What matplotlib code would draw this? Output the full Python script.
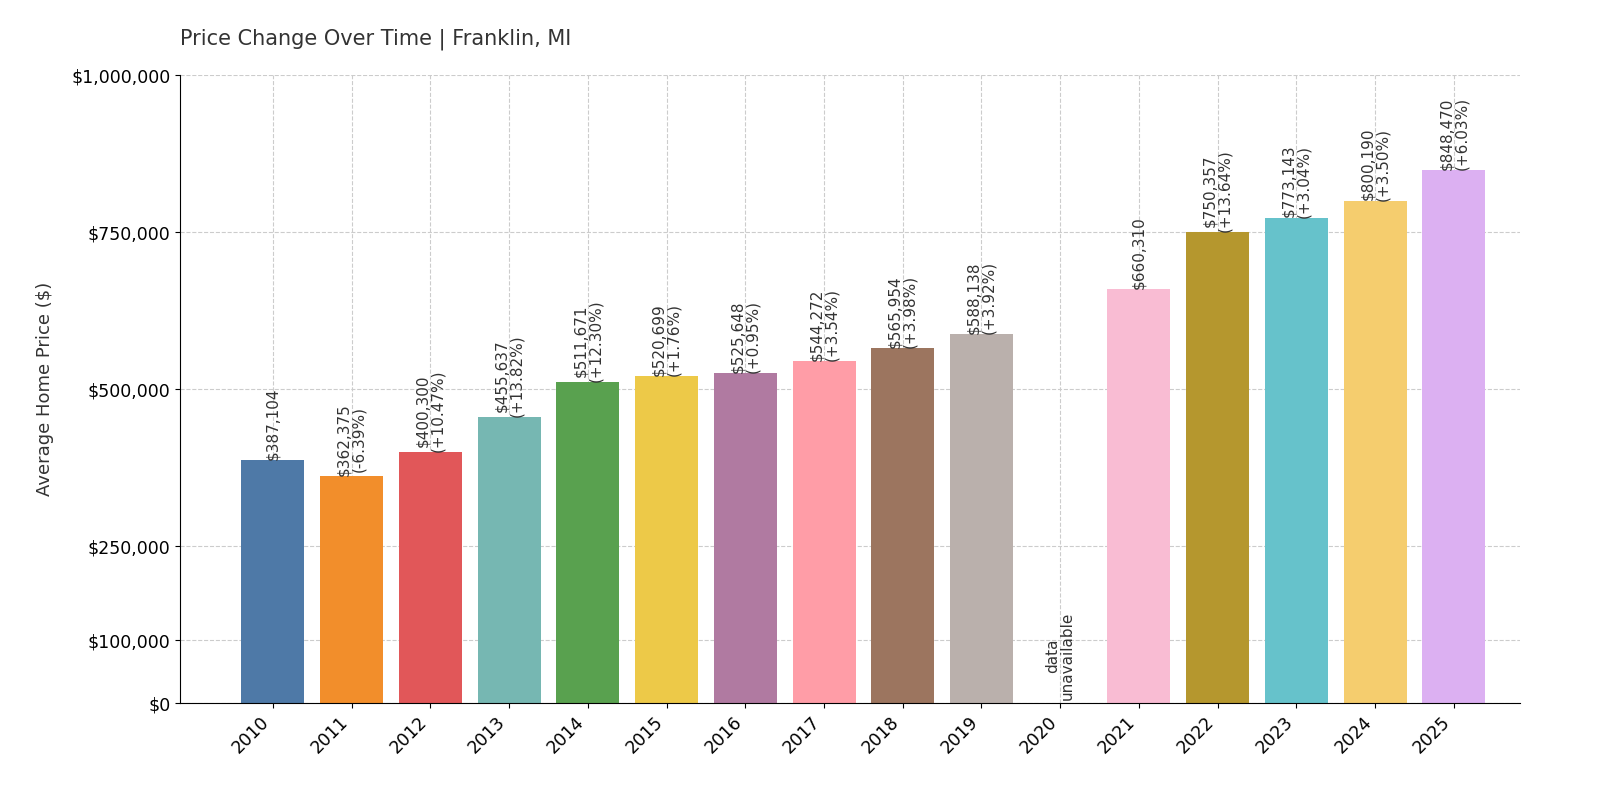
import matplotlib
matplotlib.use("Agg")
import matplotlib.pyplot as plt

years = ["2010", "2011", "2012", "2013", "2014", "2015", "2016", "2017",
         "2018", "2019", "2020", "2021", "2022", "2023", "2024", "2025"]
prices = [387104, 362375, 400300, 455637, 511671, 520699, 525648, 544272,
          565954, 588138, None, 660310, 750357, 773143, 800190, 848470]
changes = [None, "-6.39%", "+10.47%", "+13.82%", "+12.30%", "+1.76%", "+0.95%", "+3.54%",
           "+3.98%", "+3.92%", None, None, "+13.64%", "+3.04%", "+3.50%", "+6.03%"]
colors = ["#4e79a7", "#f28e2b", "#e15759", "#76b7b2", "#59a14f", "#edc948",
          "#b07aa1", "#ff9da7", "#9c755f", "#bab0ac", "#ffffff", "#f9bcd3",
          "#b5972e", "#66c2cb", "#f5cd6e", "#dcb0f2"]
yticks = [0, 100000, 250000, 500000, 750000, 1000000]

fig, ax = plt.subplots(figsize=(16, 8), dpi=100)
fig.subplots_adjust(left=0.1125, right=0.95, top=0.906, bottom=0.121)

x = list(range(len(years)))
for i, (p, c, ch) in enumerate(zip(prices, colors, changes)):
    if p is None:
        ax.text(i, 5000, "data\nunavailable", rotation=90, ha="center", va="bottom",
                fontsize=11, color="#333333", linespacing=1.0)
        continue
    ax.bar(i, p, width=0.8, color=c, zorder=2)
    label = f"${p:,}" if ch is None else f"${p:,}\n({ch})"
    ax.text(i, p, label, rotation=90, ha="center", va="bottom",
            fontsize=11, color="#333333", linespacing=1.0)

ax.set_xticks(x)
ax.set_xticklabels(years, rotation=45, ha="right", fontsize=12.5)
ax.set_yticks(yticks)
ax.set_yticklabels([f"${v:,}" for v in yticks], fontsize=12.5)
ax.set_ylim(0, 1000000)
ax.set_xlim(-1.18, 15.84)
ax.set_ylabel("Average Home Price ($)", fontsize=13, color="#333333", labelpad=12)
ax.set_title("Price Change Over Time | Franklin, MI", loc="left", fontsize=15,
             color="#333333", pad=22)
ax.grid(True, linestyle="--", color="#cccccc", linewidth=0.8, zorder=0)
for s in ["top", "right"]:
    ax.spines[s].set_visible(False)

fig.savefig("out.png", dpi=100)
